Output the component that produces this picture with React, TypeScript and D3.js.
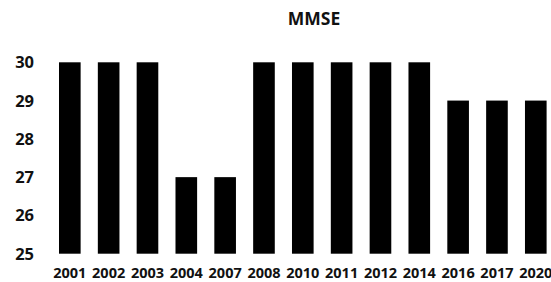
import React, { useEffect, useRef } from "react";
import * as d3 from "d3";

const years = ["2001", "2002", "2003", "2004", "2007", "2008", "2010", "2011", "2012", "2014", "2016", "2017", "2020"];
const mmse = [30, 30, 30, 27, 27, 30, 30, 30, 30, 30, 29, 29, 29];
const yTicks = [25, 26, 27, 28, 29, 30];

const svgWidth = 551;
const svgHeight = 282;

const App = () => {
    const ref = useRef<SVGSVGElement>(null);

    useEffect(() => {
        const svg = d3.select(ref.current);
        svg.selectAll("*").remove();

        const font = "'Open Sans', 'DejaVu Sans', sans-serif";

        const xScale = d3.scaleBand()
            .domain(years)
            .range([59, 546.6])
            .paddingInner(0.443)
            .paddingOuter(0);

        const yScale = d3.scaleLinear()
            .domain([25, 30])
            .range([253.7, 62.3]);

        svg.append("text")
            .text("MMSE")
            .attr("x", 314)
            .attr("y", 24.5)
            .attr("text-anchor", "middle")
            .style("font-family", font)
            .style("font-weight", "bold")
            .style("font-size", "17.5px")
            .style("fill", "#111");

        // y labels, no axis line
        svg.append("g")
            .selectAll("text")
            .data(yTicks)
            .enter()
            .append("text")
            .attr("x", 34)
            .attr("y", (d) => yScale(d))
            .attr("dy", "0.36em")
            .attr("text-anchor", "end")
            .style("font-family", font)
            .style("font-weight", "bold")
            .style("font-size", "16.5px")
            .style("fill", "#111")
            .text((d) => d);

        svg.append("g")
            .selectAll("rect")
            .data(years)
            .enter()
            .append("rect")
            .attr("x", (d) => xScale(d)!)
            .attr("width", xScale.bandwidth())
            .attr("y", (d, i) => yScale(mmse[i]))
            .attr("height", (d, i) => yScale(25) - yScale(mmse[i]))
            .attr("fill", "#000");

        svg.append("g")
            .selectAll("text")
            .data(years)
            .enter()
            .append("text")
            .attr("x", (d) => xScale(d)! + xScale.bandwidth() / 2)
            .attr("y", 277.7)
            .attr("text-anchor", "middle")
            .style("font-family", font)
            .style("font-weight", "bold")
            .style("font-size", "14.5px")
            .style("fill", "#111")
            .text((d) => d);
    }, []);

    return (
        <svg
            ref={ref}
            width={svgWidth}
            height={svgHeight}
            style={{ position: "absolute", left: 0, top: 0, background: "white" }}
        />
    );
};

export default App;
